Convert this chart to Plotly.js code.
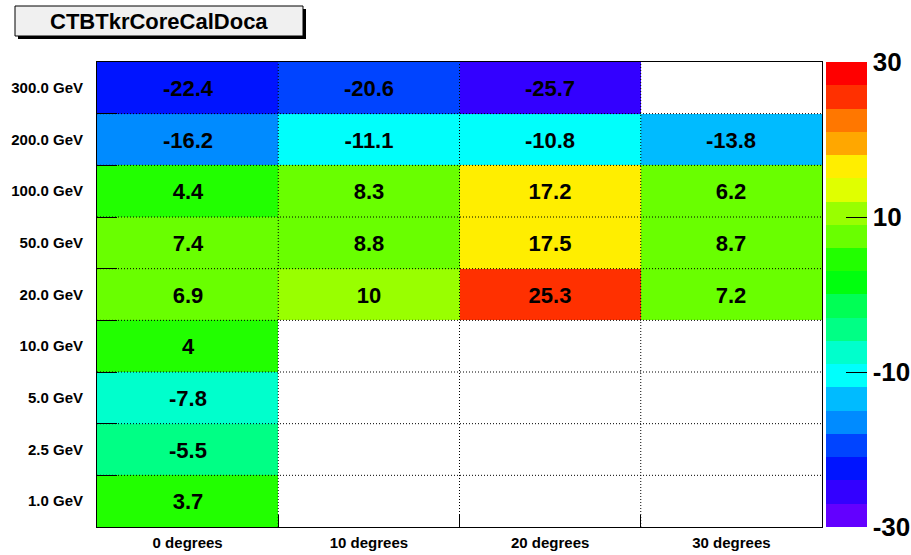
<!DOCTYPE html>
<html>
<head>
<meta charset="utf-8">
<script src="https://cdn.plot.ly/plotly-3.0.1.min.js"></script>
<style>
  html, body { margin: 0; padding: 0; background: #ffffff; }
  #chart { width: 911px; height: 555px; }
</style>
</head>
<body>
<div id="chart"></div>
<script>
// ---- Data ----
const chartTitle = "CTBTkrCoreCalDoca";
const angleLabels = ["0 degrees", "10 degrees", "20 degrees", "30 degrees"];
const energyLabels = ["1.0 GeV", "2.5 GeV", "5.0 GeV", "10.0 GeV", "20.0 GeV",
                      "50.0 GeV", "100.0 GeV", "200.0 GeV", "300.0 GeV"];
const row1GeV   = [3.7, null, null, null];
const row2p5GeV = [-5.5, null, null, null];
const row5GeV   = [-7.8, null, null, null];
const row10GeV  = [4, null, null, null];
const row20GeV  = [6.9, 10, 25.3, 7.2];
const row50GeV  = [7.4, 8.8, 17.5, 8.7];
const row100GeV = [4.4, 8.3, 17.2, 6.2];
const row200GeV = [-16.2, -11.1, -10.8, -13.8];
const row300GeV = [-22.4, -20.6, -25.7, null];
const zValues = [row1GeV, row2p5GeV, row5GeV, row10GeV, row20GeV,
                 row50GeV, row100GeV, row200GeV, row300GeV];
const zMin = -30, zMax = 30, nContours = 20;
const colorbarTicks = [-30, -10, 10, 30];

// ---- ROOT "pretty" palette (HLS, violet -> red) ----
function hls(h) {
  function f(hh) {
    if (hh > 360) hh -= 360;
    if (hh < 0) hh += 360;
    if (hh < 60) return hh / 60;
    if (hh < 180) return 1;
    if (hh < 240) return (240 - hh) / 60;
    return 0;
  }
  const r = Math.round(255 * f(h + 120));
  const g = Math.round(255 * f(h));
  const b = Math.round(255 * f(h - 120));
  return "rgb(" + r + "," + g + "," + b + ")";
}
const bandColors = [];
for (let j = 0; j < nContours; j++) {
  const k = Math.floor((j + 0.99) * 50 / nContours);
  bandColors.push(hls(280 - (k + 1) * 5.6));
}
const colorscale = [];
for (let j = 0; j < nContours; j++) {
  colorscale.push([j / nContours, bandColors[j]]);
  colorscale.push([(j + 1) / nContours, bandColors[j]]);
}

const textValues = zValues.map(r => r.map(v => v === null ? "" : String(v)));

const FONT = "Liberation Sans, Arial, Helvetica, sans-serif";

// ---- layout geometry (pixels) ----
const W = 911, H = 555;
const mL = 97, mR = 89, mT = 62, mB = 28;
const pw = W - mL - mR, ph = H - mT - mB;
const px = x => (x - mL) / pw;
const py = y => (H - mB - y) / ph;

const shapes = [];
for (let i = 1; i < angleLabels.length; i++) {
  shapes.push({type: "line", xref: "x", yref: "paper", x0: i - 0.5, x1: i - 0.5, y0: 0, y1: 1,
               line: {color: "black", width: 1, dash: "1px,2px"}});
}
for (let i = 1; i < energyLabels.length; i++) {
  shapes.push({type: "line", xref: "paper", yref: "y", x0: 0, x1: 1, y0: i - 0.5, y1: i - 0.5,
               line: {color: "black", width: 1, dash: "1px,2px"}});
}
// title box with shadow
shapes.push({type: "rect", xref: "paper", yref: "paper",
             x0: px(18), x1: px(306), y0: py(39), y1: py(9),
             fillcolor: "black", line: {width: 0}});
shapes.push({type: "rect", xref: "paper", yref: "paper",
             x0: px(15), x1: px(303), y0: py(36), y1: py(6),
             fillcolor: "#f0f0f0", line: {color: "black", width: 1}});

const trace = {
  type: "heatmap",
  x: angleLabels,
  y: energyLabels,
  z: zValues,
  text: textValues,
  texttemplate: "%{text}",
  textfont: {family: FONT, size: 22, color: "black", weight: 700},
  zmin: zMin, zmax: zMax,
  colorscale: colorscale,
  hoverongaps: false,
  colorbar: {
    x: px(826), xanchor: "left", xpad: 0,
    y: 0.5, yanchor: "middle", len: 1, ypad: 0,
    thickness: 41, thicknessmode: "pixels",
    outlinewidth: 0,
    tickmode: "array", tickvals: colorbarTicks, ticktext: colorbarTicks.map(String),
    ticks: "inside", ticklen: 21, tickwidth: 1, tickcolor: "black",
    tickfont: {family: FONT, size: 26, color: "black", weight: 700}
  }
};

const layout = {
  width: W, height: H,
  margin: {l: mL, r: mR, t: mT, b: mB, pad: 0, autoexpand: false},
  paper_bgcolor: "white",
  plot_bgcolor: "white",
  showlegend: false,
  xaxis: {
    type: "category", tickson: "boundaries",
    ticks: "inside", ticklen: 12, tickcolor: "black", tickwidth: 1,
    showgrid: false, zeroline: false,
    showline: true, mirror: true, linecolor: "black", linewidth: 1,
    tickfont: {family: FONT, size: 15, color: "black", weight: 700},
    ticklabelstandoff: 2,
    range: [-0.5, angleLabels.length - 0.5], fixedrange: true
  },
  yaxis: {
    type: "category", tickson: "boundaries",
    ticks: "inside", ticklen: 20, tickcolor: "black", tickwidth: 1,
    showgrid: false, zeroline: false,
    showline: true, mirror: true, linecolor: "black", linewidth: 1,
    tickfont: {family: FONT, size: 15, color: "black", weight: 700},
    ticklabelstandoff: 10,
    range: [-0.5, energyLabels.length - 0.5], fixedrange: true
  },
  shapes: shapes,
  annotations: [{
    xref: "paper", yref: "paper", x: px(159), y: py(21.5),
    xanchor: "center", yanchor: "middle", showarrow: false,
    text: chartTitle,
    font: {family: FONT, size: 22, color: "black", weight: 700}
  }]
};

Plotly.newPlot("chart", [trace], layout, {staticPlot: true, displayModeBar: false});
</script>
</body>
</html>
